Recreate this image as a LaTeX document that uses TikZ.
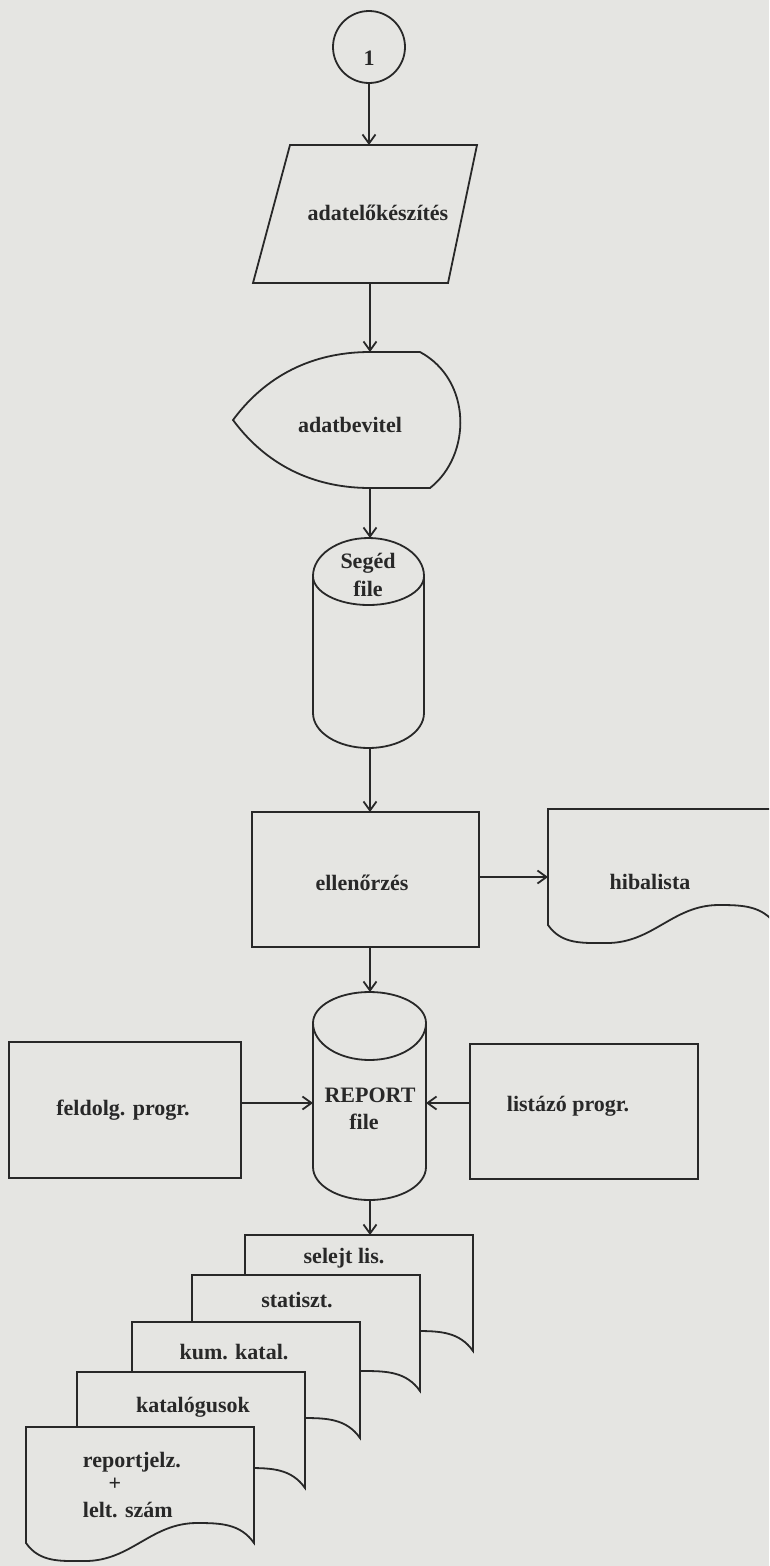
\documentclass[tikz,border=0pt]{standalone}
\usepackage{fontspec}
\setmainfont{Liberation Serif}
\usetikzlibrary{arrows.meta}
\definecolor{paper}{RGB}{229,229,226}
\definecolor{ink}{RGB}{40,40,40}
\newcommand\docshape[2]{%
  \draw[fill=paper] (#1,#2) -- ({#1},{#2+116})
    to[out=-55,in=180] ({#1+59},{#2+134})
    to[out=0,in=180] ({#1+171},{#2+96})
    to[out=0,in=125] ({#1+228},{#2+116})
    -- ({#1+228},{#2}) -- cycle;}
\begin{document}
\begin{tikzpicture}[x=1pt,y=-1pt,line width=1.8pt,draw=ink,
  lbl/.style={font=\bfseries\fontsize{22}{26}\selectfont,text=ink,inner sep=0pt},
  arr/.style={draw=ink,-{Straight Barb[length=9pt,width=13pt]}}]
\useasboundingbox (0,0) rectangle (769,1566);
\fill[paper] (0,0) rectangle (769,1566);
\clip (0,0) rectangle (769,1566);

% connector 1
\node[circle,draw=ink,minimum size=72pt,inner sep=0pt] (c1) at (369,47) {};
\node[lbl] (t1) at (369,58) {1};

% parallelogram
\draw (290,145) -- (477,145) -- (448,283) -- (253,283) -- cycle;
\node[lbl] (tpar) at (378,213) {adatelőkészítés};
\coordinate (par-n) at (369,145);
\coordinate (par-s) at (370,283);

% display shape
\draw (233,420) .. controls (270,370) and (320,352) .. (370,352) -- (420,352)
  .. controls (472,380) and (472,455) .. (430,488) -- (370,488)
  .. controls (320,488) and (270,470) .. (233,420) -- cycle;
\node[lbl] (tdisp) at (350,425) {adatbevitel};
\coordinate (disp-n) at (370,352);
\coordinate (disp-s) at (370,488);

% Seged file cylinder
\draw (313,576) arc[start angle=180,end angle=0,x radius=55.5pt,y radius=38pt]
  -- (424,713) arc[start angle=0,end angle=-180,x radius=55.5pt,y radius=35pt] -- cycle;
\draw (313,576) arc[start angle=180,end angle=360,x radius=55.5pt,y radius=29pt];
\node[lbl] (tseg1) at (368,563) {Segéd};
\node[lbl] (tseg2) at (368,589) {file};
\coordinate (seg-n) at (370,538);
\coordinate (seg-s) at (370,748);

% ellenorzes
\draw (252,812) rectangle (479,947);
\node[lbl] (tell) at (362,883) {ellenőrzés};
\coordinate (ell-n) at (370,812);
\coordinate (ell-s) at (370,947);
\coordinate (ell-e) at (479,877);

% hibalista
\docshape{548}{809}
\node[lbl] (thib) at (650,882) {hibalista};
\coordinate (hib-w) at (548,877);

% REPORT file cylinder
\draw (313,1023) arc[start angle=180,end angle=0,x radius=56.5pt,y radius=31pt]
  -- (426,1167) arc[start angle=0,end angle=-180,x radius=56.5pt,y radius=33pt] -- cycle;
\draw (313,1023) arc[start angle=180,end angle=360,x radius=56.5pt,y radius=37pt];
\node[lbl] (trep1) at (370,1095) {REPORT};
\node[lbl] (trep2) at (364,1122) {file};
\coordinate (rep-n) at (370,992);
\coordinate (rep-s) at (370,1200);
\coordinate (rep-w) at (313,1103);
\coordinate (rep-e) at (426,1103);

% feldolg. progr.
\draw (9,1042) rectangle (241,1178);
\node[lbl] (tfeld) at (123,1110) {feldolg. progr.};
\coordinate (feld-e) at (241,1103);

% listazo progr.
\draw (470,1044) rectangle (698,1179);
\node[lbl] (tlist) at (568,1106) {listázó progr.};
\coordinate (list-w) at (470,1103);

% document stack
\docshape{245}{1235}
\node[lbl] (tsel) at (344,1258) {selejt lis.};
\docshape{192}{1275}
\node[lbl] (tstat) at (297,1300) {statiszt.};
\docshape{132}{1322}
\node[lbl] (tkum) at (234,1352) {kum. katal.};
\docshape{77}{1372}
\node[lbl] (tkat) at (193,1407) {katalógusok};
\docshape{26}{1427}
\node[lbl,anchor=west] (trj1) at (82,1462) {reportjelz.};
\node[lbl] (trj2) at (115,1484) {+};
\node[lbl,anchor=west] (trj3) at (82,1510) {lelt. szám};
\coordinate (sel-n) at (370,1235);

% connectors
\draw[arr] (c1.south) -- (par-n);
\draw[arr] (par-s) -- (disp-n);
\draw[arr] (disp-s) -- (seg-n);
\draw[arr] (seg-s) -- (ell-n);
\draw[arr] (ell-e) -- (hib-w);
\draw[arr] (ell-s) -- (rep-n);
\draw[arr] (feld-e) -- (rep-w);
\draw[arr] (list-w) -- (rep-e);
\draw[arr] (rep-s) -- (sel-n);
\end{tikzpicture}
\end{document}
